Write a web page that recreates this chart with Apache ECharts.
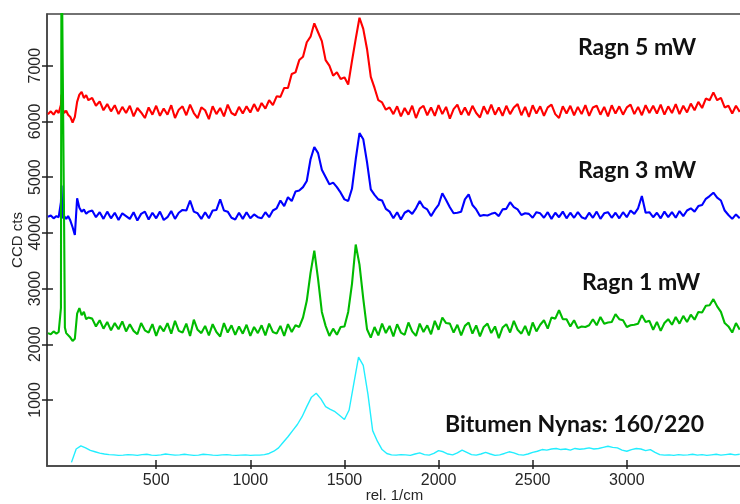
<!DOCTYPE html>
<html><head><meta charset="utf-8">
<script src="https://cdn.jsdelivr.net/npm/echarts@6/dist/echarts.min.js"></script>
<style>html,body{margin:0;padding:0;background:#fff}#c{width:740px;height:504px}</style>
</head><body><div id="c"></div>
<script>
// Raman shift sample positions (rel. 1/cm)
const shiftHead = [-75,-60,-45,-30,-18,-9,-6,-3,2,7,11,15,22,32,44,56,68,80,92,104,116,128,140];
const shiftTailStart = 160, shiftTailStep = 20;

// Ragn 5 mW (CCD cts)
const ragn5 = [6130,6180,6120,6200,6150,6180,6300,6480,6150,6200,6150,6160,6190,6120,6080,5980,6080,6350,6480,6530,6420,6470,6380,
6420,6280,6360,6200,6310,6180,6290,6130,6260,6150,
6280,6090,6240,6160,6060,6250,6120,6280,6100,6230,
6120,6290,6060,6210,6270,6110,6300,6150,6060,6250,
6200,6040,6270,6130,6240,6090,6300,6150,6110,6260,
6140,6270,6160,6310,6180,6330,6230,6380,6290,6450,
6440,6600,6600,6850,6880,7100,7160,7420,7520,7760,
7600,7440,7100,7000,6820,6880,6760,6790,6660,7080,
7480,7860,7660,7300,6800,6600,6380,6340,6210,6250,
6130,6270,6090,6240,6120,6280,6060,6230,6280,6110,
6250,6100,6290,6130,6260,6050,6220,6300,6120,6250,
6110,6280,6150,6070,6270,6130,6300,6120,6250,6100,
6280,6130,6250,6310,6110,6260,6080,6290,6140,6270,
6100,6250,6300,6130,6060,6270,6140,6280,6110,6260,
6130,6290,6100,6250,6280,6120,6260,6090,6290,6140,
6270,6120,6250,6300,6130,6260,6110,6290,6150,6280,
6140,6300,6120,6270,6150,6310,6130,6280,6160,6320,
6200,6350,6240,6410,6380,6520,6380,6420,6250,6280,
6140,6280,6170];

// Ragn 3 mW
const ragn3 = [4290,4310,4260,4300,4280,4300,4550,4850,4300,4260,4300,4280,4250,4300,4220,4100,3960,4620,4450,4380,4420,4340,4380,
4400,4280,4370,4250,4380,4260,4360,4230,4350,4300,
4250,4370,4220,4340,4380,4240,4360,4260,4380,4230,
4280,4390,4250,4360,4410,4400,4580,4380,4350,4250,
4370,4260,4400,4410,4600,4400,4380,4270,4240,4360,
4250,4370,4260,4330,4280,4260,4370,4280,4400,4440,
4580,4480,4640,4570,4740,4760,4820,4930,5320,5540,
5430,5130,5000,4870,4900,4820,4720,4600,4570,4790,
5320,5790,5680,5270,4780,4680,4600,4580,4430,4380,
4260,4370,4240,4360,4400,4340,4440,4570,4460,4420,
4300,4410,4500,4710,4590,4460,4350,4360,4380,4600,
4690,4500,4420,4300,4320,4310,4340,4360,4300,4420,
4430,4550,4460,4420,4320,4350,4340,4270,4370,4350,
4270,4370,4250,4360,4280,4380,4260,4360,4270,4370,
4280,4250,4360,4270,4380,4250,4350,4370,4270,4360,
4260,4370,4280,4400,4340,4440,4660,4360,4370,4280,
4360,4260,4380,4280,4370,4270,4390,4300,4400,4440,
4380,4480,4500,4610,4660,4720,4630,4580,4400,4320,
4250,4330,4260];

// Ragn 1 mW
const ragn1 = [2200,2180,2230,2190,2220,2230,2650,9500,9500,9500,4100,2300,2200,2230,2120,2060,2100,2550,2650,2520,2580,2450,2480,
2460,2320,2430,2280,2400,2250,2380,2270,2410,2230,
2360,2240,2180,2380,2250,2210,2360,2150,2330,2230,
2380,2190,2420,2240,2210,2370,2150,2440,2260,2200,
2330,2160,2360,2220,2140,2380,2210,2340,2170,2320,
2190,2350,2150,2310,2200,2340,2160,2370,2220,2190,
2330,2150,2360,2220,2340,2310,2480,2780,3280,3680,
3170,2580,2330,2150,2280,2170,2310,2320,2580,3080,
3790,3430,2820,2270,2120,2310,2160,2370,2200,2330,
2140,2360,2210,2170,2390,2230,2150,2370,2220,2340,
2180,2420,2260,2480,2380,2370,2210,2350,2160,2330,
2390,2190,2340,2140,2310,2370,2200,2320,2110,2300,
2360,2210,2420,2260,2190,2330,2160,2390,2230,2350,
2430,2280,2480,2460,2610,2450,2450,2320,2430,2290,
2320,2310,2340,2450,2340,2490,2370,2390,2400,2540,
2450,2430,2310,2340,2350,2370,2520,2400,2420,2260,
2400,2240,2380,2450,2350,2490,2370,2510,2400,2530,
2440,2580,2570,2690,2700,2810,2680,2580,2380,2320,
2210,2380,2260];

// Bitumen Nynas 160/220 (own sampling)
const bitumenStart = 50, bitumenStep = 25;
const bitumen = [-120,120,175,140,95,70,45,30,
20,15,5,10,20,15,5,20,
25,10,5,15,30,20,10,15,
25,15,5,10,25,20,10,5,
15,20,10,5,10,15,5,10,
10,20,40,80,140,240,340,450,
560,700,880,1050,1120,1020,880,830,
790,720,650,820,1300,1770,1620,1100,
450,260,110,40,15,10,20,15,
5,30,50,20,10,40,90,70,
30,15,50,100,60,20,10,30,
60,30,5,15,40,70,50,20,
10,30,60,80,110,100,120,130,
110,120,100,130,115,125,140,120,
130,150,170,150,140,100,80,110,
130,120,90,110,60,20,10,15,
5,20,10,15,25,10,20,5,
15,25,10,20,30,15,25];

const xTicks = [500,1000,1500,2000,2500,3000];
const yTicks = [1000,2000,3000,4000,5000,6000,7000];
const seriesNames = ['Ragn 5 mW','Ragn 3 mW','Ragn 1 mW','Bitumen Nynas: 160/220'];

const shift = shiftHead.concat(Array.from({length: ragn5.length - shiftHead.length}, (_, i) => shiftTailStart + shiftTailStep * i));
const shiftB = Array.from({length: bitumen.length}, (_, i) => bitumenStart + bitumenStep * i);
const pairs = (xs, ys) => ys.map((y, i) => [xs[i], y]);

const axisFont = '"Liberation Sans", Arial, sans-serif';
const axisCol = '#444';
const lblCol = '#262626';
const plain = v => String(v);

const chart = echarts.init(document.getElementById('c'), null, {renderer: 'canvas'});
const xBase = {type: 'value', min: -80, max: 3612, splitLine: {show: false}};
const yBase = {type: 'value', min: -185, max: 7927, splitLine: {show: false}};

const lineSeries = (name, xs, ys, color, w) => ({
  name, type: 'line', data: pairs(xs, ys), showSymbol: false, symbol: 'none',
  lineStyle: {color, width: w}, itemStyle: {color}, clip: true, animation: false,
  xAxisIndex: 0, yAxisIndex: 0
});

chart.setOption({
  animation: false,
  backgroundColor: '#fff',
  grid: {left: 47, top: 14, width: 695, height: 452, containLabel: false, outerBoundsMode: 'none',
         show: true, borderColor: axisCol, borderWidth: 1.5, backgroundColor: 'transparent'},
  xAxis: [
    Object.assign({}, xBase, {
      position: 'bottom',
      axisLine: {show: true, onZero: false, lineStyle: {color: axisCol, width: 1.5}},
      axisTick: {show: true, inside: false, length: 3, customValues: xTicks, lineStyle: {color: '#222', width: 1.5}},
      axisLabel: {customValues: xTicks, formatter: plain, margin: 7, fontSize: 16, color: lblCol, fontFamily: axisFont},
      name: 'rel. 1/cm', nameLocation: 'middle', nameGap: 22, nameMoveOverlap: false,
      nameTextStyle: {fontSize: 15, color: lblCol, fontFamily: axisFont}
    }),
    Object.assign({}, xBase, {
      position: 'bottom',
      axisLine: {show: false, onZero: false},
      axisTick: {show: true, inside: true, length: 6, customValues: xTicks, lineStyle: {color: '#222', width: 1.5}},
      axisLabel: {show: false}
    })
  ],
  yAxis: [
    Object.assign({}, yBase, {
      position: 'left',
      axisLine: {show: true, onZero: false, lineStyle: {color: axisCol, width: 1.5}},
      axisTick: {show: true, inside: false, length: 5, customValues: yTicks, lineStyle: {color: '#222', width: 1.5}},
      axisLabel: {customValues: yTicks, formatter: plain, rotate: 90, margin: 3, fontSize: 16, color: lblCol, fontFamily: axisFont},
      name: 'CCD cts', nameLocation: 'middle', nameGap: 22, nameRotate: 90, nameMoveOverlap: false,
      nameTextStyle: {fontSize: 15, color: lblCol, fontFamily: axisFont}
    }),
    Object.assign({}, yBase, {
      position: 'left',
      axisLine: {show: false, onZero: false},
      axisTick: {show: true, inside: true, length: 6, customValues: yTicks, lineStyle: {color: '#222', width: 1.5}},
      axisLabel: {show: false}
    })
  ],
  series: [
    lineSeries(seriesNames[0], shift, ragn5, '#ff0000', 2.1),
    lineSeries(seriesNames[1], shift, ragn3, '#0000ff', 2.1),
    lineSeries(seriesNames[2], shift, ragn1, '#00bb00', 2.1),
    lineSeries(seriesNames[3], shiftB, bitumen, '#22eeff', 1.4)
  ],
  graphic: [
    {type: 'text', left: 578, top: 36, style: {text: seriesNames[0], font: 'bold 23px Lato, "Open Sans", sans-serif', fill: '#111'}},
    {type: 'text', left: 578, top: 159, style: {text: seriesNames[1], font: 'bold 23px Lato, "Open Sans", sans-serif', fill: '#111'}},
    {type: 'text', left: 582, top: 271, style: {text: seriesNames[2], font: 'bold 23px Lato, "Open Sans", sans-serif', fill: '#111'}},
    {type: 'text', left: 445, top: 413, style: {text: seriesNames[3], font: 'bold 23px Lato, "Open Sans", sans-serif', fill: '#111'}}
  ]
});
</script>
</body></html>
